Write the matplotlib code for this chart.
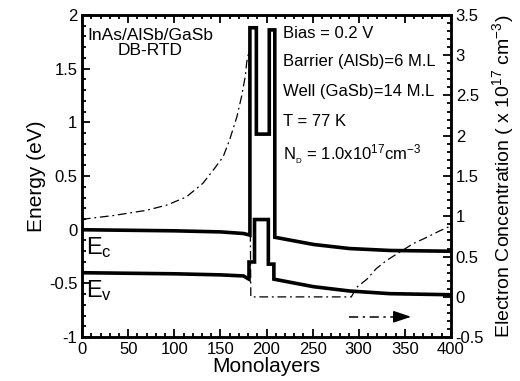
import matplotlib
matplotlib.use("Agg")
import matplotlib.pyplot as plt
from matplotlib.ticker import MultipleLocator, FormatStrFormatter

# band edges (monolayer position, energy in eV)
ec_ml = [0, 50, 100, 150, 175, 182, 182, 189, 189, 203, 203, 209, 209, 251, 290, 334, 400]
ec_ev = [0.0, -0.005, -0.01, -0.02, -0.035, -0.05, 1.88, 1.88, 0.89, 0.89, 1.86, 1.86,
         -0.07, -0.137, -0.175, -0.193, -0.20]
ev_ml = [0, 50, 100, 150, 175, 181, 181, 187, 187, 202, 202, 208, 208, 251, 290, 334, 400]
ev_ev = [-0.40, -0.405, -0.41, -0.42, -0.43, -0.46, -0.30, -0.30, 0.095, 0.095, -0.32, -0.32,
         -0.46, -0.53, -0.57, -0.595, -0.605]

# electron concentration (x 1e17 cm^-3), right axis
n_ml = [0, 5, 34, 70, 92, 113, 131, 144, 153, 160, 168, 173, 177, 178.5, 181,
        183, 200, 250, 292, 298, 309, 319, 330, 341, 359, 374, 388, 400]
n_val = [0.95, 0.97, 1.01, 1.075, 1.14, 1.24, 1.41, 1.60, 1.74, 1.95, 2.24, 2.49, 2.74, 2.91, 3.05,
         0.0, 0.0, 0.0, 0.0, 0.12, 0.22, 0.35, 0.45, 0.53, 0.66, 0.74, 0.82, 0.88]

plt.rcParams['font.family'] = ['Liberation Sans Narrow', 'Liberation Sans', 'DejaVu Sans']
plt.rcParams['mathtext.fontset'] = 'custom'
plt.rcParams['mathtext.rm'] = 'Liberation Sans'
plt.rcParams['mathtext.it'] = 'Liberation Sans'

fig = plt.figure(figsize=(5.2, 3.81), dpi=100)
ax = fig.add_axes([0.158, 0.115, 0.709, 0.846])
ax2 = ax.twinx()

ax.plot(ec_ml, ec_ev, color='black', lw=2.6, solid_joinstyle='miter')
ax.plot(ev_ml, ev_ev, color='black', lw=2.6, solid_joinstyle='miter')
ax2.plot(n_ml, n_val, color='black', lw=0.9, ls=(0, (7, 3, 1.5, 3)))

ax.set_xlim(0, 400)
ax.set_ylim(-1, 2)
ax2.set_ylim(-0.5, 3.5)

ax.xaxis.set_major_locator(MultipleLocator(50))
ax.xaxis.set_minor_locator(MultipleLocator(10))
ax.yaxis.set_major_locator(MultipleLocator(0.5))
ax.yaxis.set_minor_locator(MultipleLocator(0.1))
ax2.yaxis.set_major_locator(MultipleLocator(0.5))
ax2.yaxis.set_minor_locator(MultipleLocator(0.1))
ax.yaxis.set_major_formatter(FormatStrFormatter('%g'))
ax2.yaxis.set_major_formatter(FormatStrFormatter('%g'))

ax.tick_params(which='both', direction='in', top=True, right=False, width=1.3, labelsize=12)
ax.tick_params(which='major', length=6)
ax.tick_params(which='minor', length=3)
ax2.tick_params(which='both', direction='in', width=1.3, labelsize=12)
ax2.tick_params(which='major', length=6)
ax2.tick_params(which='minor', length=3)
for a in (ax, ax2):
    for s in a.spines.values():
        s.set_linewidth(1.8)

ax.set_xlabel('Monolayers', fontsize=15, labelpad=0)
ax.set_ylabel('Energy (eV)', fontsize=15, labelpad=2)
ax2.set_ylabel('Electron Concentration ( x 10$^{17}$ cm$^{-3}$)', fontsize=14, labelpad=4)

ax.text(0.185, 0.96, 'InAs/AlSb/GaSb\nDB-RTD', transform=ax.transAxes, ha='center', va='top',
        fontsize=12.5, linespacing=1.05)
info = ['Bias = 0.2 V', 'Barrier (AlSb)=6 M.L', 'Well (GaSb)=14 M.L', 'T = 77 K',
        'N$_{_D}$ = 1.0x10$^{17}$cm$^{-3}$']
info_y = [0.941, 0.854, 0.761, 0.668, 0.565]
for s, yy in zip(info, info_y):
    ax.text(0.545, yy, s, transform=ax.transAxes, ha='left', va='center', fontsize=12)

ax.text(4, -0.05, '$E_c$', fontsize=17, ha='left', va='top')
ax.text(4, -0.45, '$E_v$', fontsize=17, ha='left', va='top')

# dash-dot arrow pointing to the right (electron flow direction)
ax.plot([290, 344], [-0.81, -0.81], color='black', lw=1.1, ls=(0, (6, 3, 1.5, 3)))
ax.annotate('', xy=(357, -0.81), xytext=(343, -0.81),
            arrowprops=dict(arrowstyle='-|>,head_length=0.9,head_width=0.3', color='black',
                            lw=1.1, mutation_scale=12, shrinkA=0, shrinkB=0))

fig.savefig('out.png', dpi=100)
